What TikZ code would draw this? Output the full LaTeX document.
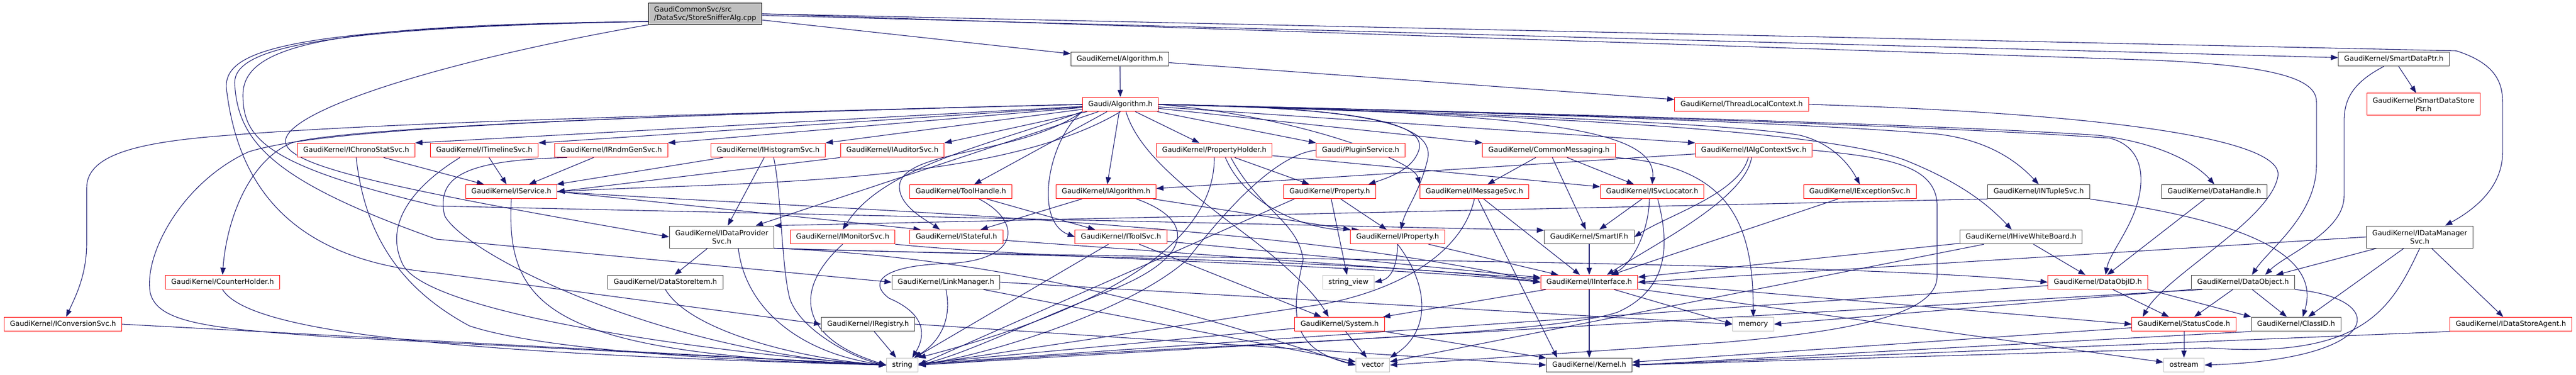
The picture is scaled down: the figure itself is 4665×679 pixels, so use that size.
\documentclass[tikz,border=0pt]{standalone}
\usepackage{fontspec}
\setmainfont{DejaVu Sans}
\usetikzlibrary{arrows.meta,calc,backgrounds}
\definecolor{edgenavy}{HTML}{191970}
\definecolor{greyfill}{HTML}{BFBFBF}
\definecolor{greyline}{HTML}{404040}
\newcommand{\inclfont}{\fontsize{12.75}{15}\selectfont}
\tikzset{file/.style={rectangle, line width=1pt, fill=white, inner xsep=10.5pt, inner ysep=0pt, minimum height=25.5pt, text height=9.4pt, text depth=3pt, font=\inclfont},
  redfile/.style={file, draw=red},
  plainfile/.style={file, draw=greyline},
  sysfile/.style={file, draw=greyfill},
  twoline/.style={text height={}, text depth={}, align=center, minimum height=40pt},
  rootfile/.style={file, twoline, align=left, minimum height=39pt, draw=black, fill=greyfill},
  incl/.style={draw=edgenavy, line width=1.1pt, -{Triangle[length=13pt,width=9.5pt]}}}

\begin{document}
\begin{tikzpicture}[x=1pt,y=-1pt]
     \useasboundingbox (0,0) rectangle (4665,679);
     \node[rootfile] (root) at (1277,25) {GaudiCommonSvc/src\\/DataSvc/StoreSnifferAlg.cpp};
     \node[plainfile] (alg) at (2028,107) {GaudiKernel/Algorithm.h};
     \node[plainfile] (sdptr) at (4335,107) {GaudiKernel/SmartDataPtr.h};
     \node[redfile] (galg) at (2029,189) {Gaudi/Algorithm.h};
     \node[redfile] (tlc) at (3154,189) {GaudiKernel/ThreadLocalContext.h};
     \node[redfile,twoline] (sdsptr) at (4389,189) {GaudiKernel/SmartDataStore\\Ptr.h};
     \node[redfile] (ichrono) at (645,272) {GaudiKernel/IChronoStatSvc.h};
     \node[redfile] (itimeline) at (877,272) {GaudiKernel/ITimelineSvc.h};
     \node[redfile] (irndm) at (1107,272) {GaudiKernel/IRndmGenSvc.h};
     \node[redfile] (ihisto) at (1391,272) {GaudiKernel/IHistogramSvc.h};
     \node[redfile] (iauditor) at (1616,272) {GaudiKernel/IAuditorSvc.h};
     \node[redfile] (propholder) at (2199,272) {GaudiKernel/PropertyHolder.h};
     \node[redfile] (plugin) at (2464,272) {Gaudi/PluginService.h};
     \node[redfile] (commsg) at (2805,272) {GaudiKernel/CommonMessaging.h};
     \node[redfile] (ialgctx) at (3176,272) {GaudiKernel/IAlgContextSvc.h};
     \node[redfile] (iservice) at (926,347) {GaudiKernel/IService.h};
     \node[redfile] (toolhandle) at (1740,347) {GaudiKernel/ToolHandle.h};
     \node[redfile] (ialgorithm) at (2003,347) {GaudiKernel/IAlgorithm.h};
     \node[redfile] (property) at (2408,347) {GaudiKernel/Property.h};
     \node[redfile] (imsgsvc) at (2670,347) {GaudiKernel/IMessageSvc.h};
     \node[redfile] (isvcloc) at (2992,347) {GaudiKernel/ISvcLocator.h};
     \node[redfile] (iexcept) at (3368,347) {GaudiKernel/IExceptionSvc.h};
     \node[plainfile] (intuple) at (3692,347) {GaudiKernel/INTupleSvc.h};
     \node[plainfile] (dhandle) at (4010,347) {GaudiKernel/DataHandle.h};
     \node[plainfile,twoline] (idp) at (1307,429) {GaudiKernel/IDataProvider\\Svc.h};
     \node[redfile] (imonitor) at (1526,429) {GaudiKernel/IMonitorSvc.h};
     \node[redfile] (istateful) at (1732,429) {GaudiKernel/IStateful.h};
     \node[redfile] (itoolsvc) at (2030,429) {GaudiKernel/IToolSvc.h};
     \node[redfile] (iproperty) at (2531,429) {GaudiKernel/IProperty.h};
     \node[plainfile] (smartif) at (2878,429) {GaudiKernel/SmartIF.h};
     \node[plainfile] (ihive) at (3660,429) {GaudiKernel/IHiveWhiteBoard.h};
     \node[plainfile,twoline] (idm) at (4382,429) {GaudiKernel/IDataManager\\Svc.h};
     \node[redfile] (counter) at (403,511) {GaudiKernel/CounterHolder.h};
     \node[plainfile] (dsitem) at (1205,511) {GaudiKernel/DataStoreItem.h};
     \node[plainfile] (linkmgr) at (1713,511) {GaudiKernel/LinkManager.h};
     \node[sysfile] (strview) at (2442,511) {string\_view};
     \node[redfile] (iinterface) at (2878,511) {GaudiKernel/IInterface.h};
     \node[redfile] (dobjid) at (3799,511) {GaudiKernel/DataObjID.h};
     \node[plainfile] (dobject) at (4062,511) {GaudiKernel/DataObject.h};
     \node[redfile] (iconv) at (114,587) {GaudiKernel/IConversionSvc.h};
     \node[plainfile] (iregistry) at (1572,587) {GaudiKernel/IRegistry.h};
     \node[redfile] (system) at (2426,587) {GaudiKernel/System.h};
     \node[sysfile] (memory) at (3175,587) {memory};
     \node[redfile] (statuscode) at (3955,587) {GaudiKernel/StatusCode.h};
     \node[plainfile] (classid) at (4158,587) {GaudiKernel/ClassID.h};
     \node[redfile] (idsagent) at (4547,587) {GaudiKernel/IDataStoreAgent.h};
     \node[sysfile] (string) at (1634,661) {string};
     \node[sysfile] (vector) at (2486,661) {vector};
     \node[plainfile] (kernel) at (2878,661) {GaudiKernel/Kernel.h};
     \node[sysfile] (ostream) at (3955,661) {ostream};
     \begin{scope}[on background layer]
      \draw[incl] (root) -- (alg);
      \draw[incl] (root) -- (sdptr);
      \draw[incl] (root.east) -- (4448,92) .. controls (4520,115) and (4532,150) .. (4532,185) -- (4532,276) .. controls (4532,340) and (4480,380) .. ($(idm.north)+(46,0)$);
      \draw[incl] (root.east) -- (3900,109) .. controls (4150,120) and (4195,150) .. (4195,185) -- (4195,298) .. controls (4195,390) and (4110,450) .. ($(dobject.north)+(16,0)$);
      \draw[incl] (root.south west) .. controls (800,110) and (520,200) .. (517,255) .. controls (515,300) and (700,340) .. (idp.west);
      \draw[incl] ($(root.south west)+(0,-6)$) .. controls (600,45) and (440,80) .. (440,172) .. controls (440,250) and (480,300) .. (790,373) -- ($(smartif.west)+(0,-12)$);
      \draw[incl] ($(root.south west)+(0,-6)$) .. controls (560,50) and (425,90) .. (425,150) .. controls (430,260) and (500,330) .. (790,433) -- (linkmgr.west);
      \draw[incl] ($(root.south west)+(0,-6)$) .. controls (520,50) and (405,90) .. (410,160) .. controls (430,330) and (520,470) .. (790,494) -- (iregistry.west);
      \draw[incl] (alg) -- (galg);
      \draw[incl] (alg) -- (tlc);
      \draw[incl] (sdptr) -- (sdsptr);
      \draw[incl] ($(sdptr.south)+(-18,0)$) .. controls (4260,150) and (4245,180) .. (4245,220) -- (4245,355) .. controls (4245,420) and (4140,460) .. ($(dobject.north)+(40,0)$);
      \draw[incl] (tlc.east) .. controls (3800,205) and (4140,250) .. (4125,320) .. controls (4110,400) and (3920,500) .. ($(statuscode.north west)+(20,0)$);
      \draw[incl] (galg.west) .. controls (900,215) and (600,230) .. (400,246) .. controls (250,258) and (157,280) .. (157,340) -- (157,440) .. controls (157,500) and (135,540) .. ($(iconv.north)+(6,0)$);
      \draw[incl] (galg.west) .. controls (900,215) and (600,240) .. (530,258) .. controls (450,290) and (410,400) .. (counter.north);
      \draw[incl] (galg.west) .. controls (900,215) and (560,240) .. (450,275) .. controls (330,330) and (260,460) .. (272,530) .. controls (285,585) and (380,595) .. (600,610) -- (string.west);
      \draw[incl] (galg) -- (ichrono.north east);
      \draw[incl] (galg) -- (itimeline.north east);
      \draw[incl] (galg) -- (irndm.north east);
      \draw[incl] (galg) -- (ihisto.north east);
      \draw[incl] (galg) -- (iauditor.north east);
      \draw[incl] (galg.south) .. controls (1800,340) and (1300,330) .. (iservice.east);
      \draw[incl] (galg) -- (toolhandle);
      \draw[incl] (galg) -- (ialgorithm);
      \draw[incl] (galg) -- (idp);
      \draw[incl] (galg.south west) .. controls (1800,260) and (1600,300) .. (imonitor.north);
      \draw[incl] (galg.south west) .. controls (1850,280) and (1650,270) .. (1630,330) .. controls (1620,370) and (1680,400) .. ($(istateful.north)+(-30,0)$);
      \draw[incl] (galg.south west) .. controls (1900,250) and (1870,400) .. (itoolsvc.west);
      \draw[incl] (galg) -- (propholder);
      \draw[incl] (galg) -- (plugin.north west);
      \draw[incl] (galg.east) .. controls (2480,195) and (2580,225) .. (2570,270) .. controls (2560,305) and (2520,320) .. ($(property.north)+(70,0)$);
      \draw[incl] (galg.east) .. controls (2350,210) and (2560,290) .. (imsgsvc.north west);
      \draw[incl] (galg.east) .. controls (2500,195) and (2600,230) .. (2585,290) .. controls (2570,350) and (2545,380) .. ($(iproperty.north)+(6,0)$);
      \draw[incl] (galg) -- (commsg.north west);
      \draw[incl] (galg.east) .. controls (2800,205) and (3000,235) .. (isvcloc.north);
      \draw[incl] (galg) -- (ialgctx.north west);
      \draw[incl] (galg.east) .. controls (2700,205) and (3150,225) .. (3260,245) .. controls (3320,260) and (3350,300) .. (iexcept.north);
      \draw[incl] (galg.east) .. controls (2800,205) and (3300,225) .. (3510,243) .. controls (3610,255) and (3660,300) .. (intuple.north);
      \draw[incl] (galg.east) .. controls (2800,210) and (3300,235) .. (3450,290) .. controls (3550,330) and (3600,370) .. ($(ihive.north)+(-17,0)$);
      \draw[incl] (galg.east) .. controls (2800,205) and (3500,225) .. (3800,245) .. controls (3920,260) and (3980,300) .. (dhandle.north);
      \draw[incl] (galg.east) .. controls (2800,205) and (3500,228) .. (3820,250) .. controls (3880,265) and (3885,320) .. (3870,370) .. controls (3855,420) and (3820,460) .. ($(dobjid.north)+(14,0)$);
      \draw[incl] ($(galg.south)+(10,0)$) .. controls (2060,270) and (2130,330) .. (2250,420) .. controls (2330,480) and (2380,530) .. ($(system.north)+(-20,0)$);
      \draw[incl] (ichrono) -- (iservice);
      \draw[incl] (ichrono.south) .. controls (660,420) and (720,520) .. (850,590) .. controls (1000,640) and (1400,655) .. (string.west);
      \draw[incl] (itimeline) -- (iservice);
      \draw[incl] ($(itimeline.south)+(-44,0)$) .. controls (760,330) and (690,400) .. (730,480) .. controls (780,570) and (1300,640) .. (string.west);
      \draw[incl] (irndm) -- (iservice);
      \draw[incl] ($(irndm.south)+(-80,0)$) .. controls (840,290) and (790,320) .. (805,390) .. controls (840,460) and (1200,640) .. (string.west);
      \draw[incl] (ihisto) -- (iservice);
      \draw[incl] (ihisto) -- (idp);
      \draw[incl] ($(ihisto.south)+(10,0)$) .. controls (1415,350) and (1415,480) .. (1430,540) .. controls (1450,600) and (1550,650) .. (string.west);
      \draw[incl] (iauditor.south west) -- (iservice.east);
      \draw[incl] (iservice.east) -- ($(istateful.north west)+(20,0)$);
      \draw[incl] (iservice.east) .. controls (1500,380) and (2300,400) .. (iinterface.west);
      \draw[incl] (iservice.south) .. controls (915,560) and (1000,640) .. (string.west);
      \draw[incl] (toolhandle) -- (itoolsvc);
      \draw[incl] ($(toolhandle.south)+(33,0)$) .. controls (1850,400) and (1850,470) .. (1720,477) .. controls (1600,480) and (1570,510) .. (1610,540) .. controls (1680,570) and (1675,610) .. ($(string.north)+(18,0)$);
      \draw[incl] (ialgorithm) -- (istateful);
      \draw[incl] (ialgorithm) -- (iproperty);
      \draw[incl] ($(ialgorithm.south)+(55,0)$) .. controls (2170,400) and (2160,470) .. (2000,530) .. controls (1850,590) and (1750,640) .. (string.east);
      \draw[incl] (propholder) -- (property);
      \draw[incl] ($(propholder.south)+(20,0)$) .. controls (2260,380) and (2380,420) .. ($(iproperty.north west)+(16,0)$);
      \draw[incl] (propholder) -- (isvcloc);
      \draw[incl] (propholder.south) .. controls (2200,440) and (2000,560) .. (string.north east);
      \draw[incl] ($(propholder.south)+(30,0)$) .. controls (2280,380) and (2350,400) .. (2360,470) .. controls (2340,560) and (2330,630) .. (vector.west);
      \draw[incl] (plugin.west) .. controls (2310,280) and (2220,380) .. (2150,470) .. controls (2050,560) and (1800,640) .. (string.east);
      \draw[incl] (commsg) -- (imsgsvc);
      \draw[incl] (commsg) -- (smartif);
      \draw[incl] (commsg) -- (isvcloc);
      \draw[incl] (commsg.south east) .. controls (3130,300) and (3175,400) .. (memory.north);
      \draw[incl] (ialgctx) -- (ialgorithm);
      \draw[incl] ($(ialgctx.south)+(-10,0)$) .. controls (3150,350) and (3020,390) .. (smartif.east);
      \draw[incl] ($(ialgctx.south)+(-4,0)$) .. controls (3160,360) and (3000,440) .. ($(iinterface.north)+(32,0)$);
      \draw[incl] (ialgctx.east) .. controls (3420,285) and (3505,300) .. (3508,370) -- (3508,500) .. controls (3508,570) and (3350,600) .. (3120,620) -- (vector.east);
      \draw[incl] (property) -- (iproperty);
      \draw[incl] (property) -- (strview);
      \draw[incl] ($(property.south west)+(20,0)$) -- (string.east);
      \draw[incl] (imsgsvc) -- (iinterface);
      \draw[incl] (imsgsvc) -- ($(kernel.north west)+(20,0)$);
      \draw[incl] (imsgsvc.south) .. controls (2650,450) and (2550,520) .. (2400,550) -- (string.east);
      \draw[incl] (isvcloc) -- (smartif);
      \draw[incl] ($(isvcloc.south)+(-5,0)$) .. controls (2985,430) and (2950,480) .. ($(iinterface.north)+(40,0)$);
      \draw[incl] ($(isvcloc.south)+(10,0)$) .. controls (3020,430) and (3030,520) .. (2930,565) .. controls (2800,610) and (2200,620) .. (string.east);
      \draw[incl] (iexcept) -- (iinterface);
      \draw[incl] (intuple.south west) -- (idp.north east);
      \draw[incl] (intuple.south east) .. controls (3950,385) and (4215,430) .. ($(classid.north)+(12,0)$);
      \draw[incl] (dhandle) -- (dobjid);
      \draw[incl] (idp) -- (dsitem);
      \draw[incl] (idp.south east) .. controls (2000,470) and (3300,470) .. (dobjid.west);
      \draw[incl] (idp.south east) .. controls (1900,465) and (2500,470) .. (iinterface.west);
      \draw[incl] ($(idp.south)+(30,0)$) .. controls (1350,560) and (1450,640) .. (string.west);
      \draw[incl] (idp.south east) .. controls (1900,470) and (2250,600) .. (vector.west);
      \draw[incl] (imonitor.south east) .. controls (1900,470) and (2500,480) .. (iinterface.west);
      \draw[incl] (imonitor.south) .. controls (1440,520) and (1440,610) .. (string.west);
      \draw[incl] (istateful) -- (iinterface);
      \draw[incl] (itoolsvc) -- (iinterface);
      \draw[incl] (itoolsvc) -- (string);
      \draw[incl] (itoolsvc) -- (system);
      \draw[incl] (iproperty) -- (iinterface);
      \draw[incl] (iproperty.south) .. controls (2530,490) and (2515,505) .. (strview.east);
      \draw[incl] (iproperty.south) .. controls (2590,520) and (2590,600) .. (vector.north east);
      \draw[incl] (smartif) -- (iinterface);
      \draw[incl] (ihive) -- (dobjid);
      \draw[incl] (ihive) -- (iinterface);
      \draw[incl] (ihive) -- (vector);
      \draw[incl] (idm) -- (idsagent);
      \draw[incl] (idm) -- ($(classid.north)+(22,0)$);
      \draw[incl] (idm) -- ($(dobject.north)+(60,0)$);
      \draw[incl] (idm.west) -- (iinterface.east);
      \draw[incl] (idm.south) .. controls (4330,560) and (4280,650) .. (4000,630) -- (kernel.east);
      \draw[incl] (counter.south) .. controls (450,600) and (800,640) .. (string.west);
      \draw[incl] (dsitem.south) .. controls (1250,600) and (1450,650) .. (string.west);
      \draw[incl] (linkmgr.south) .. controls (1725,580) and (1700,620) .. ($(string.north east)+(-8,0)$);
      \draw[incl] (linkmgr) -- (vector);
      \draw[incl] (linkmgr.east) -- (memory.west);
      \draw[incl] (iinterface) -- (kernel);
      \draw[incl] (iinterface) -- (system);
      \draw[incl] (iinterface.east) -- (statuscode.west);
      \draw[incl] (iinterface) -- (ostream);
      \draw[incl] (iinterface) -- (memory.west);
      \draw[incl] (dobjid.south east) -- (classid.north west);
      \draw[incl] (dobjid) -- (statuscode);
      \draw[incl] (dobjid) -- (string);
      \draw[incl] (dobject) -- (statuscode);
      \draw[incl] (dobject) -- (classid);
      \draw[incl] (dobject.south east) .. controls (4330,540) and (4320,650) .. (ostream.east);
      \draw[incl] (dobject.south west) -- (memory.east);
      \draw[incl] ($(dobject.south west)+(20,0)$) -- (string.east);
      \draw[incl] (statuscode) -- (ostream);
      \draw[incl] (statuscode) -- (kernel);
      \draw[incl] (classid.south west) -- (kernel.east);
      \draw[incl] (idsagent.south west) -- (kernel.east);
      \draw[incl] (iconv.east) -- (string.west);
      \draw[incl] (iregistry) -- (string);
      \draw[incl] (iregistry.east) -- (kernel.west);
      \draw[incl] (system) -- (vector);
      \draw[incl] (system) -- (string);
      \draw[incl] (system) -- (kernel);
     \end{scope}
    \end{tikzpicture}
\end{document}
